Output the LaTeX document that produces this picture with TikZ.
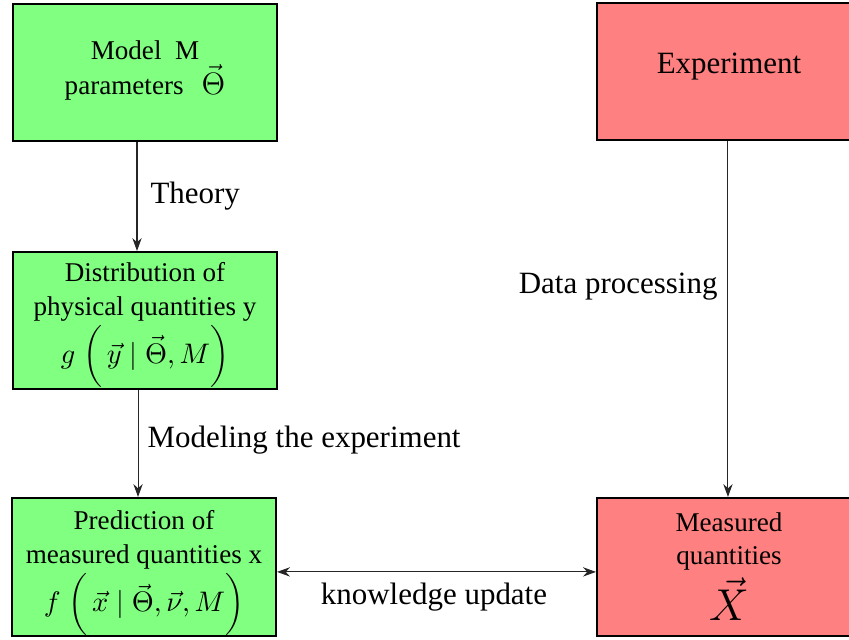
\documentclass[tikz,border=0pt]{standalone}
\usepackage[no-math]{fontspec}
\setmainfont{Liberation Serif}
\usetikzlibrary{arrows.meta}
\begin{document}
\begin{tikzpicture}[x=0.3875pt,y=-0.3875pt,
 box/.style={draw=black, line width=0.8pt, minimum width=264*0.3875pt, align=center, inner sep=0pt, font=\fontsize{10.5}{13.2}\selectfont},
 gbox/.style={box, fill=green!50, minimum height=137*0.3875pt},
 rbox/.style={box, fill=red!50, minimum height=137*0.3875pt},
 arr/.style={line width=0.4pt, draw=black!85, -{Stealth[length=5pt,width=3.6pt]}},
 darr/.style={line width=0.4pt, draw=black!85, {Stealth[length=5pt,width=3.6pt]}-{Stealth[length=5pt,width=3.6pt]}},
 lbl/.style={font=\fontsize{12}{14}\selectfont, inner sep=0pt}
]
\useasboundingbox (0,0) rectangle (849,639);
\node[gbox, font=\fontsize{10.5}{12.6}\selectfont] (model) at (145,72.5) {\raisebox{0.8pt}[\height][\depth]{Model~~M}\\[1pt]\raisebox{0.8pt}[\height][\depth]{parameters~~\,{\fontsize{11.5}{12}\selectfont$\vec{\Theta}$}}};
\node[gbox] (dist) at (145,320.5) {\rule{0pt}{10.5pt}Distribution of\\physical quantities y\\[0.5pt]$g\;\biggl(\,\vec{y}\mid\vec{\Theta},M\biggr)$};
\node[gbox, minimum height=138*0.3875pt] (pred) at (144,567) {\rule{0pt}{12pt}Prediction of\\measured quantities x\\[0.5pt]$f\;\biggl(\,\vec{x}\mid\vec{\Theta},\vec{\nu},M\biggr)$};
\node[rbox, font=\fontsize{12}{14}\selectfont] (exper) at (729,71.5) {\raisebox{1.75pt}[\height][\depth]{Experiment}};
\node[rbox, minimum height=138*0.3875pt, font=\fontsize{10.5}{12.6}\selectfont] (meas) at (729,567) {Measured\\quantities\\[2pt]{\fontsize{16}{18}\selectfont$\vec{X}$}};

\draw[arr] ([xshift=-3.1pt]model.south) -- ([xshift=-3.1pt]dist.north);
\draw[arr] ([xshift=-2.7pt]dist.south) -- ([xshift=-2.7pt]dist.south |- pred.north);
\draw[arr] ([xshift=-0.4pt]exper.south) -- ([xshift=-0.4pt]meas.north);
\draw[darr] ([yshift=-1.9pt]pred.east) -- ([yshift=-1.9pt]pred.east -| meas.west);

\node[lbl, anchor=west] (theory) at (150,196) {Theory};
\node[lbl, anchor=east] (dataproc) at (718,287) {Data processing};
\node[lbl, anchor=west] (modexp) at (147,440) {Modeling the experiment};
\node[lbl] (know) at (434,597) {knowledge update};
\end{tikzpicture}
\end{document}
